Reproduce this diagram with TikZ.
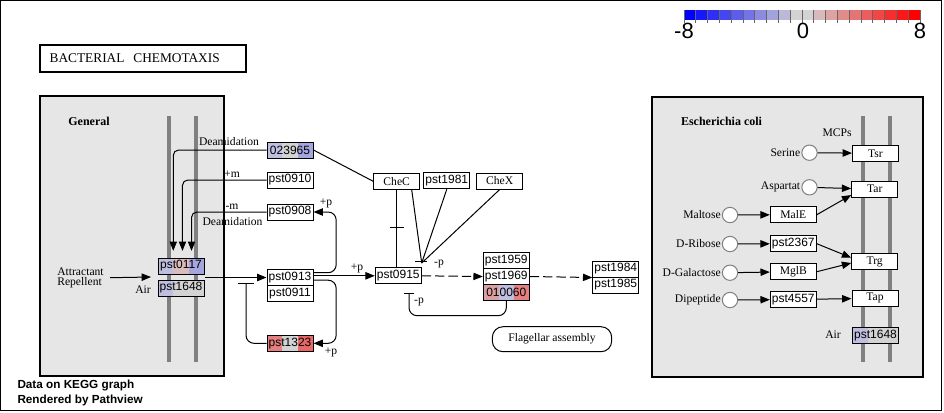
\documentclass[tikz,border=0pt]{standalone}
\usepackage{fontspec}
\setmainfont{Liberation Serif}
\setsansfont{Liberation Sans}
\usetikzlibrary{positioning,arrows.meta}
\tikzset{every picture/.style={line width=0.75pt}}

\definecolor{panelgray}{RGB}{230,230,230}
\definecolor{membgray}{RGB}{128,128,128}
\definecolor{nodata}{RGB}{211,211,211}
\definecolor{lavender}{RGB}{190,190,224}
\definecolor{bluish}{RGB}{165,165,224}
\definecolor{pinkish}{RGB}{218,188,188}
\definecolor{salmon}{RGB}{228,128,128}
\definecolor{redish}{RGB}{232,104,104}
\definecolor{rose}{RGB}{220,160,160}

\tikzset{
  gene/.style={draw, rectangle, fill=white, font=\sffamily\fontsize{9}{10}\selectfont,
    minimum width=34.5pt, minimum height=12pt, inner sep=0pt},
  ortho/.style={gene, font=\fontsize{8.7}{10}\selectfont},
  tri/.style n args={3}{path picture={
    \fill[#1] (path picture bounding box.south west) rectangle ++(11.5pt,12pt);
    \fill[#2] ([xshift=11.5pt]path picture bounding box.south west) rectangle ++(11.5pt,12pt);
    \fill[#3] ([xshift=23pt]path picture bounding box.south west) rectangle ++(11.6pt,12pt);}},
  cmpd/.style={circle, draw=membgray, fill=white, minimum size=11.5pt, inner sep=0pt},
  lbl/.style={inner sep=0.5pt},
  head/.style={font=\fontsize{9}{10}\selectfont\bfseries},
  panel/.style={draw, fill=panelgray, line width=1.5pt},
  membrane/.style={membgray, line width=3pt},
  foot/.style={anchor=west, inner sep=0pt, font=\sffamily\bfseries\fontsize{8.8}{10}\selectfont},
  cbar/.style={inner sep=0pt, font=\sffamily\fontsize{16.5}{18}\selectfont},
}

\begin{document}
\begin{tikzpicture}[x=0.75pt, y=-0.75pt, >={Triangle[length=7pt,width=5.5pt]},
    every node/.style={font=\fontsize{8.7}{7.8}\selectfont}]
    \useasboundingbox (0,0) rectangle (944,412);
    \draw (0.5,0.5) rectangle (941,410);

    \foreach \i in {0,...,8} {
        \pgfmathtruncatemacro\p{\i*100/9}
        \fill[nodata!\p!blue] (684+\i*11.8,10) rectangle ++(11.8,10);
    }
    \fill[nodata] (684+9*11.8,10) rectangle ++(23.6,10);
    \foreach \i in {11,...,19} {
        \pgfmathtruncatemacro\q{(19-\i)*100/9}
        \fill[nodata!\q!red] (684+\i*11.8,10) rectangle ++(11.8,10);
    }
    \foreach \i in {0,...,20}
        \draw[black!60, line width=0.5pt] (684+\i*11.8,10) -- (684+\i*11.8,23);
    \node[cbar] (cbmin) at (684,31) {-8};
    \node[cbar] (cbmid) at (803,31) {0};
    \node[cbar] (cbmax) at (920,31) {8};

    \node[draw, line width=1.5pt, minimum width=154.5pt, minimum height=20pt, text width=140pt,
        align=left, font=\fontsize{10}{12}\selectfont] (title) at (143,58.3) {BACTERIAL\ \ CHEMOTAXIS};

    \draw[panel] (40,96) rectangle (224,376);
    \draw[panel] (652,97) rectangle (923,377);
    \draw[membrane] (169.3,116) -- (169.3,361.7);
    \draw[membrane] (195.7,116) -- (195.7,361.7);
    \draw[membrane] (862.7,116) -- (862.7,361.7);
    \draw[membrane] (890,116) -- (890,361.7);
    \node[head] (general) at (89,121) {General};
    \node[head] (ecoli) at (721.5,121) {Escherichia coli};

    \node[gene, tri={lavender}{pinkish}{bluish}] (pst0117) at (181,266) {pst0117};
    \node[gene, tri={lavender}{nodata}{nodata}] (pst1648) at (181,288) {pst1648};
    \node[gene, tri={lavender}{nodata}{bluish}] (n023965) at (290,150) {023965};
    \node[gene] (pst0910) at (290,180) {pst0910};
    \node[gene] (pst0908) at (290,212) {pst0908};
    \node[gene] (pst0913) at (290,277.5) {pst0913};
    \node[gene] (pst0911) at (290,293.5) {pst0911};
    \node[gene, tri={salmon}{nodata}{redish}] (pst1323) at (290,343.3) {pst1323};
    \node[gene] (pst0915) at (398.3,275.8) {pst0915};
    \node[ortho] (chec) at (396.7,181.3) {CheC};
    \node[gene] (pst1981) at (446.8,180.7) {pst1981};
    \node[ortho] (chex) at (499.7,181) {CheX};
    \node[gene] (pst1959) at (506.3,260.5) {pst1959};
    \node[gene] (pst1969) at (506.3,276.5) {pst1969};
    \node[gene, tri={rose}{lavender}{salmon}] (n010060) at (506.3,292.5) {010060};
    \node[gene] (pst1984) at (615.8,269) {pst1984};
    \node[gene] (pst1985) at (615.8,285) {pst1985};
    \node[ortho, rounded corners=8pt, minimum width=89.5pt, minimum height=18.75pt] (flag) at (552,339.2) {Flagellar assembly};

    \node[lbl, align=left] (attr) at (80.5,277.7) {Attractant\\Repellent};
    \node[lbl] (airl) at (143,290) {Air};
    \node[lbl] (deam1) at (229,142) {Deamidation};
    \node[lbl] (plusm) at (232,174) {+m};
    \node[lbl] (minusm) at (232,207) {-m};
    \node[lbl] (deam2) at (232.5,221.7) {Deamidation};
    \node[lbl] (pp1) at (326,203) {+p};
    \node[lbl] (pp2) at (357,268) {+p};
    \node[lbl] (pp3) at (331,352) {+p};
    \node[lbl] (mp1) at (439,264) {-p};
    \node[lbl] (mp2) at (419,302) {-p};

    \coordinate (sig) at (151,277);
    \coordinate (recep) at (205,277.5);
    \coordinate (inh1) at (246,283);
    \coordinate (inh2) at (409,293);
    \coordinate (cvg) at (421.7,263);

    \draw[->] ([xshift=4pt]attr.east) -- (sig);
    \draw[->, rounded corners=4pt] (n023965.west) -| ([xshift=-5.8pt,yshift=5pt]pst0117.north);
    \draw[->, rounded corners=4pt] (pst0910.west) -| ([xshift=1.1pt,yshift=5pt]pst0117.north);
    \draw[->, rounded corners=4pt] (pst0908.west) -| ([xshift=7.9pt,yshift=5pt]pst0117.north);
    \draw[->] (recep) -- (pst0913.west);
    \draw[->, rounded corners=6pt] ([yshift=3.6pt]pst0913.east) -- ++(17pt,0pt) |- (pst0908.east);
    \draw[->] (pst0915.west -| pst0913.east) -- (pst0915.west);
    \draw[->, rounded corners=6pt] ([yshift=-2pt]pst0913.east) -- ++(17pt,0pt) |- (pst1323.east);
    \draw[-{Bar[width=12pt]}, rounded corners=6pt] (pst1323.west) -| (inh1);
    \draw (n023965.east) -- (chec.west);
    \draw (chec.south) -- coordinate[pos=0.49] (chm) (chec.south |- pst0915.north);
    \draw ([xshift=-5.25pt]chm) -- ([xshift=5.25pt]chm);
    \draw ([xshift=11.25pt]chec.south) -- (cvg);
    \draw (pst1981.south) -- (cvg);
    \draw (chex.south) -- (cvg);
    \draw ([xshift=-5pt,yshift=1pt]cvg) -- ([xshift=4pt,yshift=1pt]cvg);
    \draw[->, dash pattern=on 7pt off 3pt] (pst0915.east) -- (pst1969.west);
    \draw[->, dash pattern=on 7pt off 3pt] (pst1969.east) -- (pst1984.south west);
    \draw[-{Bar[width=8pt]}, rounded corners=6pt] (n010060.south) -- ++(0pt,-11pt) -| (inh2);

    \node[ortho] (tsr) at (875.5,153.3) {Tsr};
    \node[ortho] (tar) at (874.7,189.2) {Tar};
    \node[ortho] (trg) at (874.7,261.7) {Trg};
    \node[ortho] (tap) at (875,298.3) {Tap};
    \node[gene, tri={lavender}{nodata}{nodata}] (pst1648r) at (875.5,335.3) {pst1648};
    \node[ortho] (male) at (793.3,214.7) {MalE};
    \node[gene] (pst2367) at (793.3,243.7) {pst2367};
    \node[ortho] (mglb) at (793.3,271.7) {MglB};
    \node[gene] (pst4557) at (793.3,299.5) {pst4557};
    \node[cmpd] (ser) at (809.5,152.7) {};
    \node[cmpd] (asp) at (809.5,187.3) {};
    \node[cmpd] (mal) at (730,215) {};
    \node[cmpd] (rib) at (730,244) {};
    \node[cmpd] (gal) at (730,272.7) {};
    \node[cmpd] (dip) at (730,300) {};
    \node[lbl, left=0pt of ser] (serl) {Serine};
    \node[lbl, left=0pt of asp] (aspl) {Aspartat};
    \node[lbl, left=0pt of mal] (mall) {Maltose};
    \node[lbl, left=0pt of rib] (ribl) {D-Ribose};
    \node[lbl, left=0pt of gal] (gall) {D-Galactose};
    \node[lbl, left=0pt of dip] (dipl) {Dipeptide};
    \node[lbl] (mcps) at (837,132.7) {MCPs};
    \node[lbl] (airr) at (833,335) {Air};

    \draw[->] (ser) -- (tsr);
    \draw[->] (asp) -- (tar);
    \draw[->] (mal) -- (male);
    \draw[->] (rib) -- (pst2367);
    \draw[->] (gal) -- (mglb);
    \draw[->] (dip) -- (pst4557);
    \draw[->] (male.east) -- ([yshift=2pt]tar.south west);
    \draw[->] (pst2367.east) -- ([yshift=3pt]trg.west);
    \draw[->] (mglb.east) -- ([yshift=-1pt]trg.west);
    \draw[->] (pst4557) -- (tap);

    \node[foot] (foot1) at (17,385) {Data on KEGG graph};
    \node[foot] (foot2) at (17,400.7) {Rendered by Pathview};
\end{tikzpicture}
\end{document}
